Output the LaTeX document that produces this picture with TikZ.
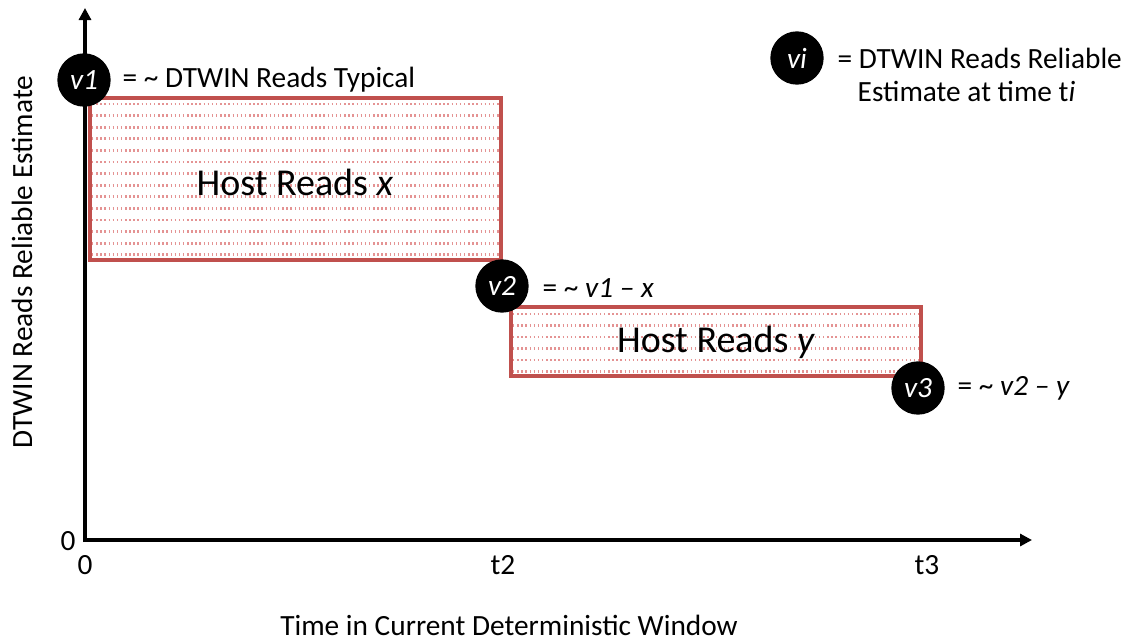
\documentclass[tikz,border=0pt]{standalone}
\usepackage{fontspec}
\setmainfont{Carlito}
\usetikzlibrary{arrows.meta}
\definecolor{rborder}{HTML}{C0504D}
\definecolor{rhatch}{HTML}{D65A5A}
\tikzset{
  axis/.style={line width=3pt,-{Triangle[length=9pt,width=9pt]}},
  readbox/.style={draw=rborder,line width=2.4pt,fill=white},
  hatchrow/.style={rhatch,line width=2.2pt,dash pattern=on 1.1pt off 2pt,opacity=0.65},
  vcirc/.style={circle,fill=black,minimum size=40pt,inner sep=0pt,text=white,font=\fontsize{22}{24}\selectfont\itshape},
  lbl/.style={anchor=west,font=\fontsize{22}{26}\selectfont},
  big/.style={font=\fontsize{28.5}{32}\selectfont},
  tick/.style={font=\fontsize{22}{26}\selectfont}
}
\begin{document}
\begin{tikzpicture}[x=0.75pt,y=-0.75pt]
\useasboundingbox (0,0) rectangle (1128,643);
% axes
\coordinate (O) at (85,540);
\coordinate (ytop) at (85,8);
\coordinate (xend) at (1032,540);
\draw[axis] ([yshift=-1.5pt]O) -- (ytop);
\draw[axis] ([xshift=-1.5pt]O) -- (xend);
% box 1
\draw[readbox] (90,98) rectangle (501,260);
\begin{scope}
\clip (92,100) rectangle (499,258);
\foreach \yy in {104,115.6,...,258} \draw[hatchrow] (92,\yy) -- (499,\yy);
\end{scope}
\node[big] (hx) at (295,182) {Host Reads \textit{x}};
% box 2
\draw[readbox] (511,307) rectangle (921,376);
\begin{scope}
\clip (513,309) rectangle (919,374);
\foreach \yy in {314,325.5,...,374} \draw[hatchrow] (513,\yy) -- (919,\yy);
\end{scope}
\node[big] (hy) at (716,342) {Host Reads \textit{y}};
% circles
\node[vcirc] (v1) at (84,80) {v1};
\node[vcirc] (v2) at (502,286) {v2};
\node[vcirc] (v3) at (918,388) {v3};
\node[vcirc] (vi) at (797,58) {vi};
% labels
\node[lbl] (l1) at (118,80) {= \textasciitilde{} DTWIN Reads Typical};
\node[lbl] (l2) at (538,288) {= \textasciitilde{} \textit{v1 – x}};
\node[lbl] (l3) at (953,388) {= \textasciitilde{} \textit{v2 – y}};
\node[lbl] (li1) at (833,58) {= DTWIN Reads Reliable};
\node[lbl] (li2) at (853,91) {Estimate at time t\textit{i}};
% ticks
\node[tick] (z1) at (68,541) {0};
\node[tick] (z2) at (85,565) {0};
\node[tick] (t2) at (503,565) {t2};
\node[tick] (t3) at (927,565) {t3};
% axis titles
\node[tick] (xt) at (509,625) {Time in Current Deterministic Window};
\node[tick,rotate=90] (yt) at (22,262) {DTWIN Reads Reliable Estimate};
\end{tikzpicture}
\end{document}
